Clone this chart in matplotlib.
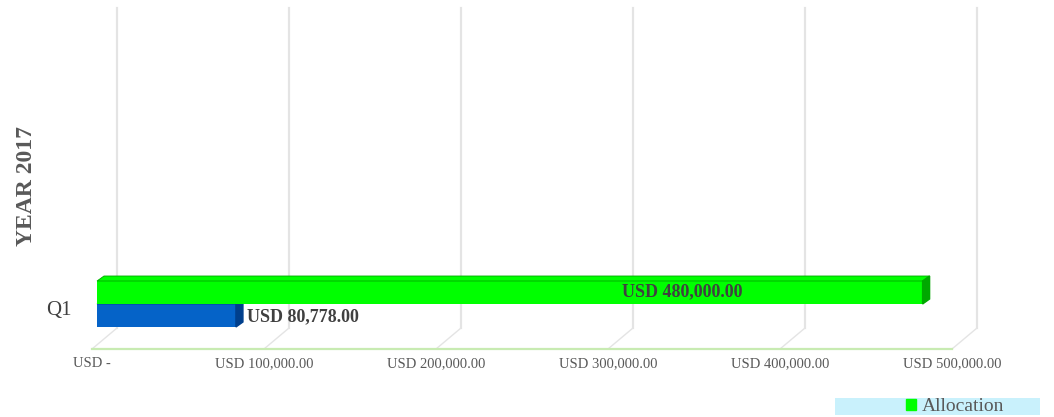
import matplotlib.pyplot as plt
from matplotlib.patches import Polygon, Patch, Rectangle

# data
category = "Q1"
series_names = ["Allocation", "Spent"]
series_values = [480000, 80778]
series_colors = ["#00ff00", "#0563c8"]
side_colors = ["#00a800", "#003f8c"]
xticks = [0, 100000, 200000, 300000, 400000, 500000]
xtick_labels = ["USD -", "USD 100,000.00", "USD 200,000.00",
                "USD 300,000.00", "USD 400,000.00", "USD 500,000.00"]

W, H = 1054, 417
plt.rcParams["font.family"] = ["Liberation Serif", "DejaVu Serif"]

fig = plt.figure(figsize=(W / 100, H / 100), dpi=100)
# front plane of the 3d box, in pixels: x 92..952, floor y 349, top 8
ax = fig.add_axes([92 / W, (H - 349) / H, 860 / W, 341 / H])
ax.set_xlim(0, 500000)
ax.set_ylim(0, 341)
ax.patch.set_alpha(0)
for s in ax.spines.values():
    s.set_visible(False)

px = 500000 / 860.0          # usd per pixel
wall_dx, wall_dy = 25 * px, 21
bar_dx, bar_dy = 7 * px, 5   # depth of the bars
bar_left = 5 * px
bar_h = 23
cat_y = 45

grid_c = "#e4e4e4"
for v in xticks:
    ax.plot([v, v + wall_dx], [0, wall_dy], color=grid_c, lw=1.0, zorder=1, clip_on=False)
    ax.plot([v + wall_dx, v + wall_dx], [wall_dy, 341], color=grid_c, lw=1.6,
            zorder=1, clip_on=False)
ax.plot([0, 500000], [0, 0], color="#c8ebb2", lw=1.6, zorder=2, clip_on=False)

# bars, first series on top
ys = [cat_y + bar_h / 2, cat_y - bar_h / 2]
for val, y, c, sc, z in zip(series_values, ys, series_colors, side_colors, [5, 4]):
    ax.barh(y, val, left=bar_left, height=bar_h, color=c, zorder=z)
    x1 = bar_left + val
    top = y + bar_h / 2
    bot = y - bar_h / 2
    ax.add_patch(Polygon([(bar_left, top), (bar_left + bar_dx, top + bar_dy),
                          (x1 + bar_dx, top + bar_dy), (x1, top)],
                         closed=True, fc=c, ec=sc, lw=0.6, zorder=z))
    ax.add_patch(Polygon([(x1, bot), (x1 + bar_dx, bot + bar_dy),
                          (x1 + bar_dx, top + bar_dy), (x1, top)],
                         closed=True, color=sc, zorder=z))

# data labels
ax.text(series_values[1] + bar_left + bar_dx + 4 * px, ys[1] - 1, "USD 80,778.00",
        ha="left", va="center", fontsize=13, fontweight="bold", color="#404040", zorder=6)
ax.text(series_values[0] * 0.715, ys[0] + 1, "USD 480,000.00",
        ha="center", va="center", fontsize=13, fontweight="bold", color="#404040", zorder=6)

ax.set_xticks(xticks)
ax.set_xticklabels(xtick_labels, fontsize=10.5, color="#595959")
for lbl in ax.get_xticklabels():
    lbl.set_verticalalignment("baseline")
ax.set_yticks([cat_y - 4])
ax.set_yticklabels([category], fontsize=15, color="#404040")
ax.tick_params(length=0)
ax.tick_params(axis="x", pad=13)
ax.tick_params(axis="y", pad=15)

fig.text(27 / W, 1 - 186 / H, "YEAR 2017", rotation=90, ha="center", va="center",
         fontsize=17, fontweight="bold", color="#595959")

# legend
fig.add_artist(Rectangle((835 / W, (H - 415) / H), 205 / W, 17 / H,
                         transform=fig.transFigure, color="#c9f1fc", lw=0))
fig.legend(handles=[Patch(color=series_colors[0], label=series_names[0])],
           loc="center", bbox_to_anchor=(955 / W, 1 - 406.5 / H), frameon=False,
           fontsize=14, handlelength=0.5, handleheight=0.5, handletextpad=0.3,
           labelcolor="#595959", borderpad=0)

fig.savefig("out.png", dpi=100)
